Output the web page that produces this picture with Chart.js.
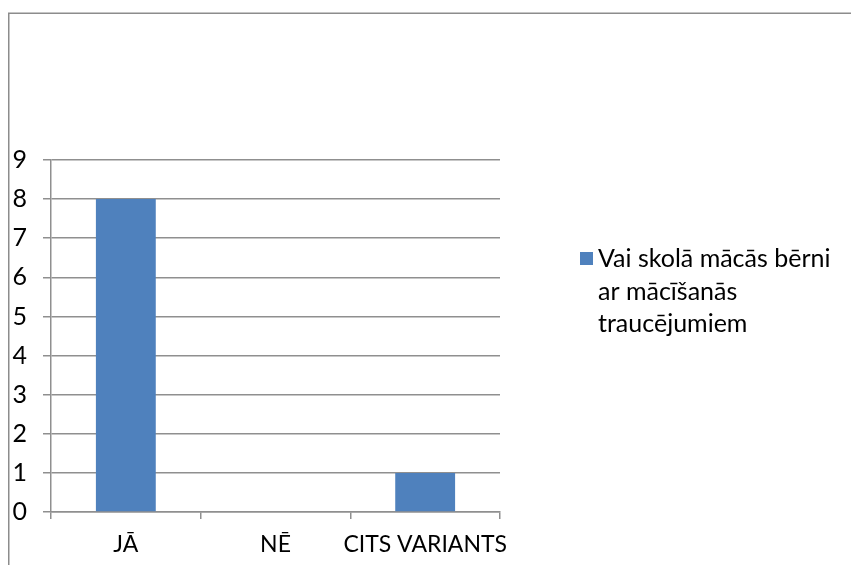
<!DOCTYPE html>
<html>
<head>
<meta charset="utf-8">
<script src="https://cdn.jsdelivr.net/npm/chart.js@4/dist/chart.umd.min.js"></script>
<style>
html,body{margin:0;padding:0;background:#fff;}
#wrap{width:851px;height:565px;position:relative;}
</style>
</head>
<body>
<div id="wrap"><canvas id="c" width="851" height="565"></canvas></div>
<script>
const categories = ["JĀ", "NĒ", "CITS VARIANTS"];
const seriesName = "Vai skolā mācās bērni ar mācīšanās traucējumiem";
const legendLines = ["Vai skolā mācās bērni", "ar mācīšanās", "traucējumiem"];
const values = [8, 0, 1];
const yTicks = [0, 1, 2, 3, 4, 5, 6, 7, 8, 9];

const FONT = "Lato";
const BAR = "#4F81BD";
const GRID = "#8f8f8f";

const framePlugin = {
  id: "frame",
  beforeDraw(chart) {
    const ctx = chart.ctx;
    ctx.save();
    ctx.fillStyle = "#fff";
    ctx.fillRect(0, 0, chart.width, chart.height);
    ctx.strokeStyle = "#8c8c8c";
    ctx.lineWidth = 1.5;
    ctx.strokeRect(8.75, 13.25, chart.width + 20, chart.height + 20);
    ctx.restore();
  },
  afterDraw(chart) {
    const ctx = chart.ctx;
    const ds = chart.data.datasets[0];
    ctx.save();
    ctx.fillStyle = ds.backgroundColor;
    ctx.fillRect(580, 252, 13, 13);
    ctx.fillStyle = "#000";
    ctx.font = "25px " + FONT;
    ctx.textBaseline = "middle";
    ctx.textAlign = "left";
    legendLines.forEach((t, i) => ctx.fillText(t, 598, 259 + i * 32.5));
    ctx.restore();
  }
};

new Chart(document.getElementById("c"), {
  type: "bar",
  data: {
    labels: categories,
    datasets: [{
      label: seriesName,
      data: values,
      backgroundColor: BAR,
      borderWidth: 0,
      categoryPercentage: 1,
      barPercentage: 0.4
    }]
  },
  plugins: [framePlugin],
  options: {
    responsive: false,
    animation: false,
    events: [],
    layout: { padding: { left: 0, top: 160, right: 351, bottom: 0 } },
    plugins: { legend: { display: false }, tooltip: { enabled: false } },
    scales: {
      x: {
        grid: { offset: true, drawOnChartArea: false, drawTicks: true, tickLength: 7, color: GRID, lineWidth: 1.5 },
        border: { color: GRID, width: 1.5 },
        ticks: { color: "#000", font: { family: FONT, size: 23 }, padding: 12, maxRotation: 0, autoSkip: false },
        afterFit(s) { s.height = 53; }
      },
      y: {
        min: 0, max: 9,
        afterBuildTicks(s) { s.ticks = yTicks.map(v => ({ value: v })); },
        grid: { color: GRID, lineWidth: 1.5, drawTicks: true, tickLength: 8 },
        border: { color: GRID, width: 1.5 },
        ticks: { color: "#000", font: { family: FONT, size: 25 }, padding: 16 },
        afterFit(s) { s.width = 51; }
      }
    }
  }
});
</script>
</body>
</html>
